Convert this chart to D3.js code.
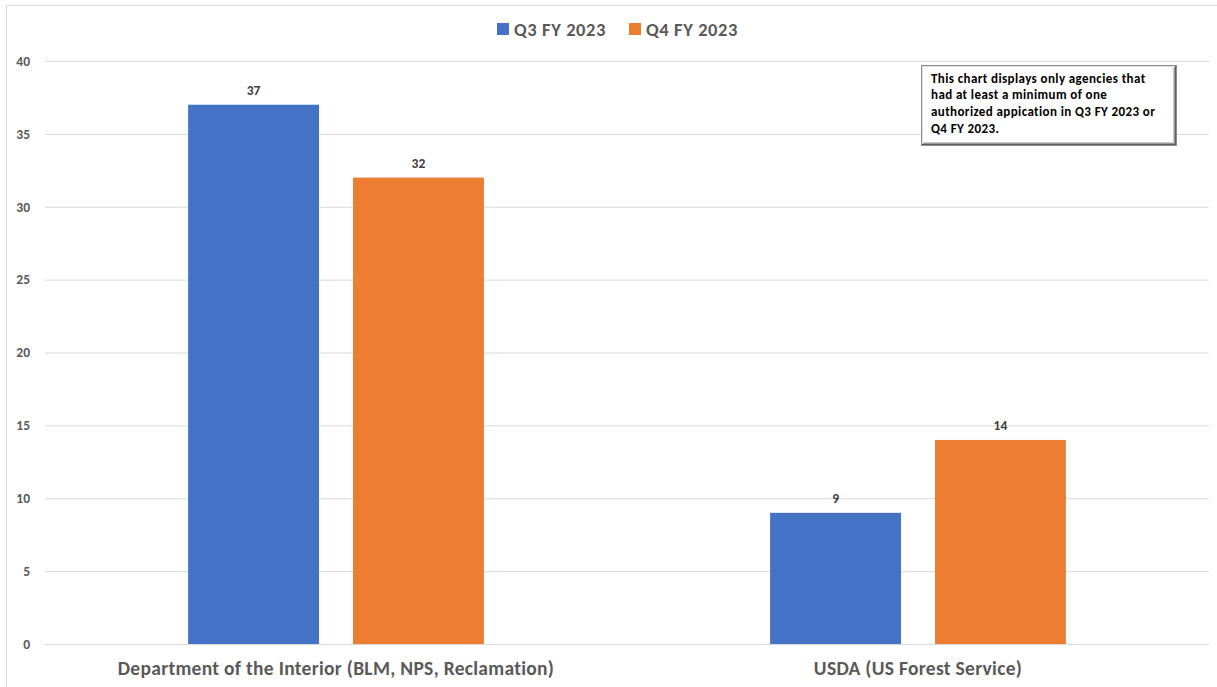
<!DOCTYPE html>
<html>
<head>
<meta charset="utf-8">
<script src="https://cdn.jsdelivr.net/npm/d3@7"></script>
<style>
  html, body { margin: 0; padding: 0; background: #fff; }
  svg { display: block; }
  text { font-family: Carlito, Calibri, Lato, "Open Sans", sans-serif; font-weight: bold; }
</style>
</head>
<body>
<svg id="chart" width="1217" height="687"></svg>
<script>
const categories = ["Department of the Interior (BLM, NPS, Reclamation)", "USDA (US Forest Service)"];
const seriesNames = ["Q3 FY 2023", "Q4 FY 2023"];
const q3Values = [37, 9];
const q4Values = [32, 14];
const yTicks = [0, 5, 10, 15, 20, 25, 30, 35, 40];
const noteLines = [
  "This chart displays only agencies that",
  "had at least a minimum of one",
  "authorized appication in Q3 FY 2023 or",
  "Q4 FY 2023."
];

const colors = ["#4472C4", "#ED7D31"];
const seriesValues = [q3Values, q4Values];

const svg = d3.select("#chart");
const W = 1217, H = 687;
const plot = { left: 45, right: 1209, top: 61, bottom: 644 };

// chart border
svg.append("rect")
  .attr("x", 6.5).attr("y", 5.5)
  .attr("width", W + 10).attr("height", H + 10)
  .attr("fill", "#fff").attr("stroke", "#D9D9D9").attr("stroke-width", 1);

const y = d3.scaleLinear().domain([0, 40]).range([plot.bottom, plot.top]);
const x0 = d3.scaleBand().domain(categories).range([plot.left, plot.right]).paddingInner(0).paddingOuter(0);
const x1 = d3.scaleBand().domain(seriesNames).range([0, x0.bandwidth()])
  .paddingInner(0.206).paddingOuter(0.868);

// gridlines
const yAxis = d3.axisLeft(y).tickValues(yTicks).tickSize(-(plot.right - plot.left)).tickPadding(15);
const gy = svg.append("g").attr("transform", `translate(${plot.left},0)`).call(yAxis);
gy.select(".domain").remove();
gy.selectAll(".tick line").attr("stroke", "#D9D9D9").attr("stroke-width", 1);
gy.selectAll(".tick text").attr("fill", "#595959").attr("font-size", 13.5);

// bars
const groups = svg.append("g").selectAll("g")
  .data(categories).join("g")
  .attr("transform", d => `translate(${x0(d)},0)`);

groups.selectAll("rect")
  .data((d, i) => seriesNames.map((s, j) => ({ s, j, v: seriesValues[j][i] })))
  .join("rect")
  .attr("x", d => x1(d.s))
  .attr("y", d => y(d.v))
  .attr("width", x1.bandwidth())
  .attr("height", d => y(0) - y(d.v))
  .attr("fill", d => colors[d.j]);

groups.selectAll("text.val")
  .data((d, i) => seriesNames.map((s, j) => ({ s, j, v: seriesValues[j][i] })))
  .join("text")
  .attr("class", "val")
  .attr("x", d => x1(d.s) + x1.bandwidth() / 2)
  .attr("y", d => y(d.v) - 10)
  .attr("text-anchor", "middle")
  .attr("font-size", 13.5)
  .attr("fill", "#404040")
  .text(d => d.v);

// x axis labels
const xAxis = d3.axisBottom(x0).tickSize(0).tickPadding(17);
const gx = svg.append("g").attr("transform", `translate(0,${plot.bottom})`).call(xAxis);
gx.select(".domain").remove();
gx.selectAll(".tick text").attr("fill", "#595959").attr("font-size", 19.5).attr("letter-spacing", "0.3px");

// legend
const legendItems = [
  { name: seriesNames[0], color: colors[0], x: 497 },
  { name: seriesNames[1], color: colors[1], x: 629 }
];
const lg = svg.append("g");
legendItems.forEach(it => {
  lg.append("rect").attr("x", it.x).attr("y", 23).attr("width", 12).attr("height", 12).attr("fill", it.color);
  lg.append("text").attr("x", it.x + 17).attr("y", 35.5).attr("font-size", 18.5)
    .attr("letter-spacing", "0.6px")
    .attr("fill", "#595959").text(it.name);
});

// note box
const bx = 921, by = 65, bw = 255, bh = 80;
const note = svg.append("g");
note.append("rect").attr("x", bx + 0.5).attr("y", by + 0.5).attr("width", bw).attr("height", bh)
  .attr("fill", "#fff").attr("stroke", "#8C8C8C").attr("stroke-width", 1);
// bevel shadow right & bottom
[["#5f5f5f", 1], ["#9a9a9a", 2], ["#c8c8c8", 3]].forEach(([c, o]) => {
  note.append("line").attr("x1", bx + bw - o + 0.5).attr("y1", by + o).attr("x2", bx + bw - o + 0.5).attr("y2", by + bh - o + 1)
    .attr("stroke", c);
  note.append("line").attr("x1", bx + o).attr("y1", by + bh - o + 0.5).attr("x2", bx + bw - o + 1).attr("y2", by + bh - o + 0.5)
    .attr("stroke", c);
});
[["#e0e0e0", 1]].forEach(([c, o]) => {
  note.append("line").attr("x1", bx + o + 0.5).attr("y1", by + o).attr("x2", bx + o + 0.5).attr("y2", by + bh - o)
    .attr("stroke", c);
  note.append("line").attr("x1", bx + o).attr("y1", by + o + 0.5).attr("x2", bx + bw - o).attr("y2", by + o + 0.5)
    .attr("stroke", c);
});
note.selectAll("text.note").data(noteLines).join("text")
  .attr("class", "note")
  .attr("x", bx + 10)
  .attr("y", (d, i) => by + 17.5 + i * 16.8)
  .attr("font-size", 13)
  .attr("letter-spacing", "0.4px")
  .attr("fill", "#000")
  .text(d => d);
</script>
</body>
</html>
